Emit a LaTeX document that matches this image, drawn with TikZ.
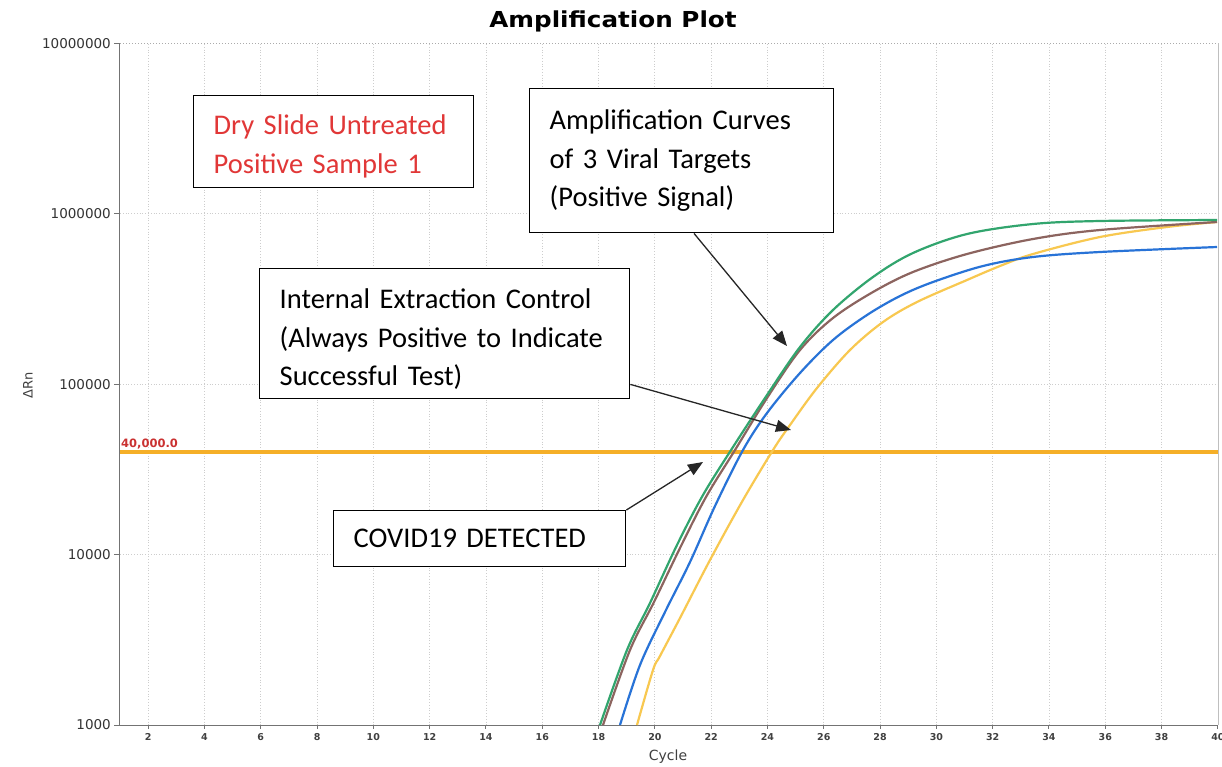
\documentclass[tikz,border=0pt]{standalone}
\usepackage{fontspec}
\setmainfont{Carlito}
\newfontfamily\dejavu{DejaVu Sans}
\newfontfamily\dejavuwide{DejaVu Sans}[FakeStretch=1.12]
\usetikzlibrary{arrows.meta}
\definecolor{cgreen}{RGB}{50,165,110}
\definecolor{cbrown}{RGB}{140,100,95}
\definecolor{cblue}{RGB}{40,115,215}
\definecolor{cyellow}{RGB}{248,200,80}
\definecolor{cthr}{RGB}{245,175,40}
\definecolor{cred}{RGB}{225,55,55}
\definecolor{cgrid}{RGB}{205,205,205}
\definecolor{caxis}{RGB}{115,115,115}
\begin{document}
\begin{tikzpicture}[x=1pt,y=-1pt,
  box/.style={draw=black,line width=1.4pt,fill=white,anchor=north west,inner xsep=20pt,inner ysep=0pt,align=left,font=\fontsize{28.5}{38.5}\selectfont},
  arr/.style={-{Triangle[length=15pt,width=12pt]},line width=1.3pt,black!85},
  ampcurve/.style={line width=2.2pt,smooth,tension=0.55},
  gridline/.style={cgrid,dotted,line width=0.8pt},
  ylab/.style={anchor=east,inner sep=0pt,font=\dejavu\fontsize{13.5}{14}\selectfont,text=black!80},
  xlab/.style={anchor=north,inner sep=0pt,font=\dejavu\bfseries\fontsize{9.5}{10}\selectfont,text=black!75}]
\useasboundingbox[fill=white] (0,0) rectangle (1222,766);
% grid
\foreach \c in {2,4,...,38}
  \draw[gridline] ({120+(\c-1)*28.15},44) -- ({120+(\c-1)*28.15},725);
\foreach \d in {4,5,6}
  \draw[gridline] (120,{725-(\d-3)*170.4}) -- (1218,{725-(\d-3)*170.4});
\draw[caxis!60,dotted,line width=1pt] (120,43.4) -- (1218,43.4);
\draw[black!25,line width=0.8pt] (1218,43.4) -- (1218,725);
% axes
\draw[caxis,line width=1.4pt] (119.5,43.4) -- (119.5,725.5) -- (1218,725.5);
\foreach \d/\t in {3/1000,4/10000,5/100000,6/1000000,7/10000000}{
  \draw[caxis,line width=1pt] (114,{725-(\d-3)*170.4}) -- (119.5,{725-(\d-3)*170.4});
  \node[ylab] (yl\d) at (111,{725-(\d-3)*170.4}) {\t};
}
\foreach \c in {2,4,...,40}{
  \draw[caxis,line width=1pt] ({120+(\c-1)*28.15},725.5) -- ({120+(\c-1)*28.15},729);
  \node[xlab] (xl\c) at ({120+(\c-1)*28.15},733) {\c};
}
\node[font=\dejavu\fontsize{14}{15}\selectfont,text=black!75] (xtitle) at (668,757) {Cycle};
\node[font=\dejavu\fontsize{13}{14}\selectfont,text=black!75,rotate=90] (ytitle) at (28,385) {ΔRn};
\node[font=\dejavuwide\bfseries\fontsize{22}{22}\selectfont] (title) at (613,21) {Amplification Plot};
% threshold
\draw[cthr,line width=4pt] (120,452) -- (1218,452);
\node[anchor=south west,inner sep=0pt,text=cred!90!black,font=\dejavu\bfseries\fontsize{11.5}{11.5}\selectfont] (thr) at (121,449.5) {40,000.0};
% curves
\draw[ampcurve,cyellow] plot coordinates {(637,725) (653,670) (660,656) (680,618) (710,560) (743,500) (773,450) (790,425) (817,388) (850,350) (883,322) (917,302) (967,280) (1000,266) (1033,254) (1100,237) (1167,227) (1217,222)};
\draw[ampcurve,cblue] plot coordinates {(620,725) (640,665) (665,612) (690,562) (715,506) (743,450) (767,413) (800,373) (833,340) (867,315) (900,296) (933,282) (983,266) (1033,257) (1100,252) (1217,247)};
\draw[ampcurve,cbrown] plot coordinates {(603,725) (630,650) (654,602) (680,548) (706,497) (735,450) (767,398) (800,350) (833,318) (873,292) (913,272) (967,254) (1033,239) (1100,230) (1217,222)};
\draw[ampcurve,cgreen] plot coordinates {(600,725) (627,650) (650,603) (677,545) (703,495) (733,447) (767,395) (800,347) (833,310) (873,277) (913,253) (967,234) (1033,224) (1100,221) (1217,220)};
% boxes
\node[box,text=cred,text width=240pt,minimum height=92pt] (b1) at (193,95) {\rule{0pt}{29pt}Dry Slide Untreated\\Positive Sample 1};
\node[box,text width=264pt,minimum height=144pt] (b2) at (529,88) {Amplification Curves\\of 3 Viral Targets\\(Positive Signal)};
\node[box,text width=330pt,minimum height=130pt] (b3) at (259,268) {\rule{0pt}{31pt}Internal Extraction Control\\(Always Positive to Indicate\\Successful Test)};
\node[box,text width=252pt,minimum height=56pt] (b4) at (333,510) {COVID19 DETECTED};
% arrows
\coordinate (s2) at ([xshift=165pt]b2.south west);
\coordinate (t2) at (787,346);
\coordinate (s3) at ([yshift=15pt]b3.south east);
\coordinate (t3) at (791,430);
\coordinate (t4) at (703,462);
\draw[arr] (s2) -- (t2);
\draw[arr] (s3) -- (t3);
\draw[arr] (b4.north east) -- (t4);
\end{tikzpicture}
\end{document}
